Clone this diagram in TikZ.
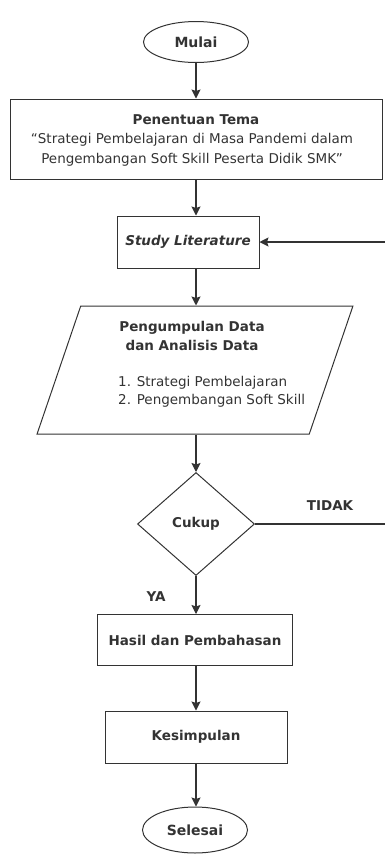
\documentclass[tikz,border=0pt]{standalone}
\usepackage{fontspec}
\setmainfont{DejaVu Sans}
\usetikzlibrary{arrows.meta,positioning,shapes.geometric}
\definecolor{ink}{HTML}{333333}

\begin{document}
\begin{tikzpicture}[
  x=1pt,y=-1pt,
  >={Stealth[length=9pt,width=9pt,inset=1.5pt]},
  every node/.style={text=ink,font=\fontsize{13.5}{20}\selectfont},
  term/.style={ellipse,draw=ink,line width=1pt,inner sep=0,font=\fontsize{14}{16}\selectfont\bfseries},
  box/.style={rectangle,draw=ink,line width=1pt,inner sep=0,align=center},
  io/.style={trapezium,draw=ink,line width=1pt,trapezium left angle=78.5,trapezium right angle=101.5,
    trapezium stretches=true,minimum width=316,minimum height=128,inner sep=1pt},
  ask/.style={diamond,draw=ink,line width=1pt,aspect=1.14,minimum width=117,minimum height=103,
    inner sep=0,font=\fontsize{13.5}{16}\selectfont\bfseries},
  lbl/.style={font=\fontsize{13.5}{16}\selectfont\bfseries},
  arr/.style={->,draw=ink,line width=1.1pt},
]
  \useasboundingbox (0,0) rectangle (385,855);
  \node[term,minimum width=105,minimum height=41] (mulai) at (196,42) {Mulai};
  \node[box,minimum width=372,minimum height=80] (tema) at (196,139) {};
  \node[lbl] (temaA) at (196,120) {Penentuan Tema};
  \node[align=center] (temaB) at (192,150)
    {“Strategi Pembelajaran di Masa Pandemi dalam\\Pengembangan Soft Skill Peserta Didik SMK”};
  \node[box,minimum width=142,minimum height=52,font=\fontsize{13.5}{16}\selectfont\bfseries\itshape]
    (lit) at (188,242) {Study Literature};
  \node[io] (data) at (195,370) {\phantom{x}};
  \node[align=center,font=\fontsize{13.5}{19}\selectfont\bfseries] (dataA) at (192,336)
    {Pengumpulan Data\\dan Analisis Data};
  \node[align=left,anchor=west,inner sep=0,font=\fontsize{13.5}{18}\selectfont] (dataB) at (118,392)
    {1. Strategi Pembelajaran\\2. Pengembangan Soft Skill};
  \node[ask] (cek) at (196,524) {Cukup};
  \node[lbl] (tidak) at (330,506) {TIDAK};
  \node[lbl] (ya) at (156,597) {YA};
  \node[box,minimum width=195,minimum height=51,lbl] (hasil) at (195,640) {Hasil dan Pembahasan};
  \node[box,minimum width=182,minimum height=52,lbl] (kes) at (196,737) {Kesimpulan};
  \node[term,minimum width=105,minimum height=46] (selesai) at (195,830) {Selesai};
  \coordinate (rim) at (387,0);

  \draw[arr] (mulai) -- (tema.north -| mulai);
  \draw[arr] (tema.south -| mulai) -- (lit.north -| mulai);
  \draw[arr] (lit.south -| mulai) -- (data.north -| mulai);
  \draw[arr] (data.south -| mulai) -- (cek);
  \foreach \a/\b in {cek/hasil,hasil/kes,kes/selesai}
    \draw[arr] (\a.south -| mulai) -- (\b.north -| mulai);
  \draw[arr] (cek) -- (cek -| rim) |- (lit);
\end{tikzpicture}
\end{document}
